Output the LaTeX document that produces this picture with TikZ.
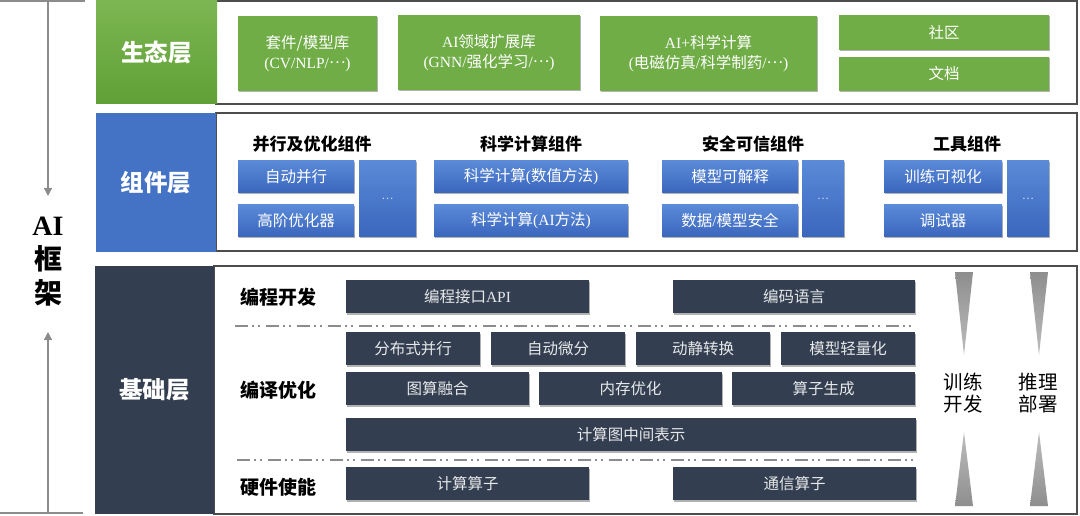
\documentclass[tikz,border=0pt]{standalone}
\usepackage{fontspec}
\setmainfont{Noto Sans CJK SC}
\newfontfamily\lat{Liberation Serif}
\usetikzlibrary{shadows,arrows.meta}
\definecolor{ggreen}{HTML}{70AD47}
\definecolor{gltop}{HTML}{7CB652}
\definecolor{glbot}{HTML}{60A036}
\definecolor{bblue}{HTML}{4472C4}
\definecolor{btop}{HTML}{5B8AD8}
\definecolor{bbot}{HTML}{3A66BC}
\definecolor{darkbg}{HTML}{333F50}
\definecolor{lgray}{HTML}{8C8C8C}
\definecolor{framec}{HTML}{4D4D4D}
\definecolor{tritop}{HTML}{8E8E8E}
\definecolor{tribot}{HTML}{BDBDBD}
\newcommand\mybox[7]{\node[#6, minimum width={(#4-#2)*1pt}, minimum height={(#5-#3)*1pt}] (#1) at ({(#2+#4)/2},{(#3+#5)/2}) {#7};}
\newcommand\cdts{\raisebox{0.3em}{…}}
\begin{document}
\begin{tikzpicture}[x=1pt,y=-1pt,
  every node/.style={inner sep=0pt, outer sep=0pt},
  shad/.style={drop shadow={shadow xshift=1pt, shadow yshift=-1.5pt, opacity=0.3, fill=black}},
  box/.style={align=center, text=white, font=\fontsize{15.5}{20}\selectfont},
  gbox/.style={box, fill=ggreen, shad},
  bbox/.style={box, top color=btop, bottom color=bbot, shad},
  dots/.style={bbox, text=white!75!bblue, font=\fontsize{11}{13}\selectfont},
  dbox/.style={box, fill=darkbg, shad, text=white!88!darkbg},
  framebox/.style={draw=framec, line width=1.2pt, fill=white},
  lab/.style={text=white, font=\bfseries\fontsize{23.5}{28}\selectfont},
  glab/.style={lab, top color=gltop, bottom color=glbot},
  blab/.style={lab, fill=bblue},
  dlab/.style={lab, fill=darkbg},
  head/.style={font=\bfseries\fontsize{17}{20}\selectfont},
  sub/.style={font=\bfseries\fontsize{19}{22}\selectfont},
  side/.style={align=center, font=\fontsize{19.5}{22.5}\selectfont},
  dashline/.style={draw=lgray, line width=1.6pt, dash pattern=on 13pt off 4pt on 2pt off 4pt on 2pt off 6pt},
  axis/.style={draw=lgray, line width=1.5pt},
  tip/.style={-{Triangle[width=8pt,length=8pt]}}
]
\useasboundingbox (0,0) rectangle (1080,516);

% ---- left axis ----
\coordinate (topL) at (48,1);
\coordinate (arrD) at (48,196);
\coordinate (botL) at (48,513);
\coordinate (arrU) at (48,332);
\coordinate (tlA) at (0,1);
\coordinate (tlB) at (85,1);
\coordinate (blA) at (0,513);
\coordinate (blB) at (83,513);
\draw[axis] (tlA) -- (tlB);
\draw[axis] (blA) -- (blB);
\draw[axis,tip,draw=lgray,fill=lgray] (topL) -- (arrD);
\draw[axis,tip,draw=lgray,fill=lgray] (botL) -- (arrU);
\node[align=center, font=\bfseries\fontsize{28}{34}\selectfont] (ai) at (48,262) {{\lat AI}\\框\\架};

% ---- frames ----
\mybox{f1}{216}{1}{1077}{104}{framebox}{}
\mybox{f2}{216}{113}{1077}{251}{framebox}{}
\mybox{f3}{214}{266}{1077}{514}{framebox}{}

% ---- layer labels ----
\mybox{l1}{96}{1}{217}{104}{glab}{生态层}
\mybox{l2}{96}{113}{216}{252}{blab}{组件层}
\mybox{l3}{95}{266}{214}{514}{dlab}{基础层}

% ---- ecology layer ----
\mybox{e1}{238}{16}{377}{91}{gbox}{套件/模型库\\{\lat (CV/NLP/}\cdts{\lat )}}
\mybox{e2}{398}{15}{580}{90}{gbox}{{\lat AI}领域扩展库\\{\lat (GNN/}强化学习{\lat /}\cdts{\lat )}}
\mybox{e3}{600}{16}{817}{91}{gbox}{{\lat AI+}科学计算\\{\lat (}电磁仿真{\lat /}科学制药{\lat /}\cdts{\lat )}}
\mybox{e4}{839}{15}{1049}{50}{gbox}{社区}
\mybox{e5}{839}{57}{1049}{91}{gbox}{文档}

% ---- component layer ----
\node[head] (h1) at (312,144) {并行及优化组件};
\node[head] (h2) at (531,144) {科学计算组件};
\node[head] (h3) at (753,144) {安全可信组件};
\node[head] (h4) at (967,144) {工具组件};
\mybox{c1}{238}{161}{354}{193}{bbox}{自动并行}
\mybox{c2}{238}{205}{354}{237}{bbox}{高阶优化器}
\mybox{c3}{359}{161}{416}{237}{dots}{…}
\mybox{c4}{434}{161}{628}{193}{bbox}{科学计算{\lat (}数值方法{\lat )}}
\mybox{c5}{434}{205}{628}{237}{bbox}{科学计算{\lat (AI}方法{\lat )}}
\mybox{c6}{662}{161}{798}{193}{bbox}{模型可解释}
\mybox{c7}{662}{205}{798}{237}{bbox}{数据{\lat /}模型安全}
\mybox{c8}{802}{161}{844}{237}{dots}{…}
\mybox{c9}{884}{161}{1002}{193}{bbox}{训练可视化}
\mybox{c10}{884}{205}{1002}{237}{bbox}{调试器}
\mybox{c11}{1007}{161}{1049}{237}{dots}{…}

% ---- base layer ----
\node[sub] (s1) at (278,297) {编程开发};
\node[sub] (s2) at (278,390) {编译优化};
\node[sub] (s3) at (278,487) {硬件使能};
\mybox{b1}{346}{280}{589}{313}{dbox}{编程接口{\lat API}}
\mybox{b2}{673}{280}{915}{313}{dbox}{编码语言}
\coordinate (d1a) at (235,326);
\coordinate (d1b) at (915,326);
\draw[dashline] (d1a) -- (d1b);
\mybox{b3}{346}{332}{480}{365}{dbox}{分布式并行}
\mybox{b4}{491}{332}{625}{365}{dbox}{自动微分}
\mybox{b5}{636}{332}{770}{365}{dbox}{动静转换}
\mybox{b6}{781}{332}{915}{365}{dbox}{模型轻量化}
\mybox{b7}{346}{372}{529}{405}{dbox}{图算融合}
\mybox{b8}{539}{372}{722}{405}{dbox}{内存优化}
\mybox{b9}{732}{372}{915}{405}{dbox}{算子生成}
\mybox{b10}{346}{418}{916}{451}{dbox}{计算图中间表示}
\coordinate (d2a) at (237,460);
\coordinate (d2b) at (915,460);
\draw[dashline] (d2a) -- (d2b);
\mybox{b11}{346}{467}{589}{500}{dbox}{计算算子}
\mybox{b12}{673}{467}{916}{500}{dbox}{通信算子}

% ---- right side ----
\shade[top color=tritop, bottom color=tribot] (955,272) -- (973,272) -- (964,355) -- cycle;
\shade[top color=tritop, bottom color=tribot] (1030,272) -- (1048,272) -- (1039,355) -- cycle;
\shade[top color=tribot, bottom color=tritop] (964,432) -- (973,506) -- (955,506) -- cycle;
\shade[top color=tribot, bottom color=tritop] (1039,432) -- (1048,506) -- (1030,506) -- cycle;
\node[side] (t1) at (963,393) {训练\\开发};
\node[side] (t2) at (1038,393) {推理\\部署};
\end{tikzpicture}
\end{document}
